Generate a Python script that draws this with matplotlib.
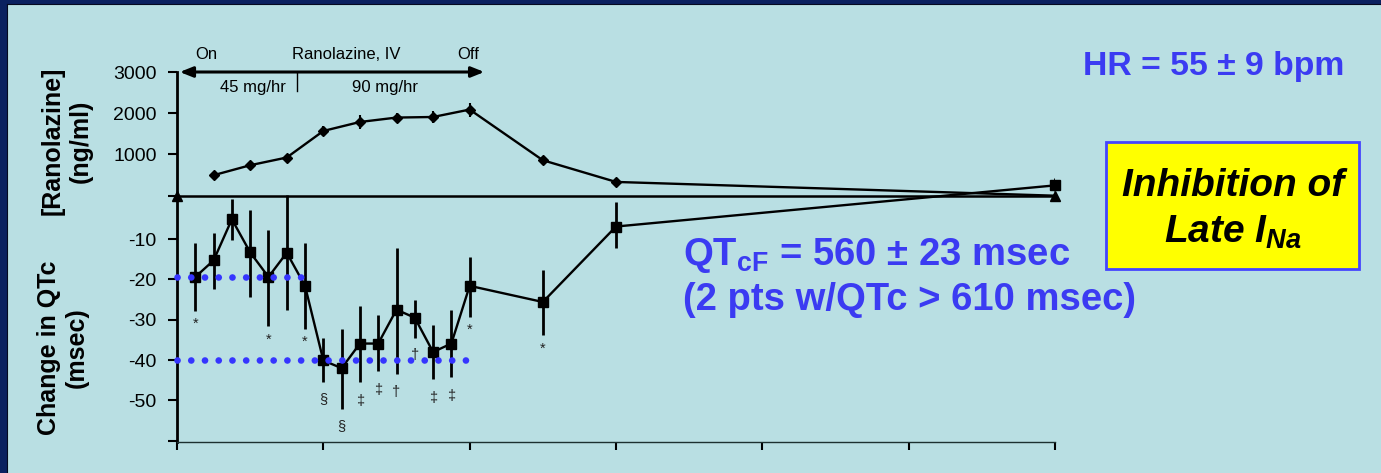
import matplotlib
matplotlib.use('Agg')
import matplotlib.pyplot as plt
from matplotlib.patches import Rectangle
from matplotlib.lines import Line2D
import numpy as np

plt.rcParams['font.family'] = ['Liberation Sans', 'DejaVu Sans']
plt.rcParams['mathtext.default'] = 'regular'

# --- data ---
# change in QTc (msec), hours after start of infusion
qtc_hours = [1, 2, 3, 4, 5, 6, 7, 8, 9, 10, 11, 12, 13, 14, 15, 16, 20, 24, 48]
qtc_mean = [-19.4, -15.3, -5.1, -13.3, -19.4, -13.4, -21.6, -40.1, -42.0, -35.9,
            -35.9, -27.5, -29.5, -38.0, -35.9, -21.6, -25.6, -6.9, 3.3]
qtc_upper = [-11.1, -8.4, -0.1, -2.8, -7.8, 1.0, -11.1, -34.5, -32.2, -26.6,
             -28.9, -12.3, -25.2, -31.2, -27.5, -14.4, -17.7, -0.7, 5.2]
qtc_lower = [-27.8, -22.5, -10.2, -24.3, -31.6, -27.5, -32.2, -45.4, -52.1, -45.4,
             -42.8, -43.5, -34.5, -44.8, -44.2, -29.3, -33.9, -12.3, 1.8]
qtc_signif = ['*', '', '', '', '*', '', '*', '§', '§', '‡', '‡', '†', '†', '‡', '‡',
              '*', '*', '', '']

# plasma ranolazine (ng/ml)
conc_hours = [0, 2, 4, 6, 8, 10, 12, 14, 16, 20, 24, 48]
conc_mean = [0, 497, 739, 926, 1570, 1788, 1895, 1909, 2089, 860, 334, 0]
conc_sd = [0, 40, 40, 50, 110, 160, 120, 140, 170, 110, 40, 40]

ref_levels = [-19.4, -40.0]
ref_until = [6.9, 16.5]

qtc_ticks = [-60, -50, -40, -30, -20, -10]
qtc_ticklabels = ['', '-50', '-40', '-30', '-20', '-10']
conc_ticks = [0, 1000, 2000, 3000]
conc_ticklabels = ['', '1000', '2000', '3000']
hour_ticks = [0, 8, 16, 24, 32, 40, 48]

# --- figure, sized in pixels ---
W, H, DPI = 1381, 473, 100
BG = '#b9dfe3'
BLUE = '#3b3bf2'
fig = plt.figure(figsize=(W / DPI, H / DPI), dpi=DPI, facecolor=BG)


def fx(px):
    return px / W


def fy(py):
    return 1 - py / H


# slide frame: navy strip left and top
fig.patches.append(Rectangle((0, 0), fx(7), 1, transform=fig.transFigure,
                             facecolor='#0b2160', edgecolor='none', zorder=0))
fig.patches.append(Rectangle((0, fy(4.7)), 1, 4.7 / H, transform=fig.transFigure,
                             facecolor='#0b2160', edgecolor='none', zorder=0))
fig.lines.append(Line2D([fx(6.5), fx(6.5)], [0, fy(4.2)], transform=fig.transFigure,
                        color='#050a20', lw=0.8))
fig.lines.append(Line2D([fx(6.5), 1], [fy(4.2), fy(4.2)], transform=fig.transFigure,
                        color='#050a20', lw=0.8))

ax = fig.add_axes([fx(177), fy(442), (1055 - 177) / W, (442 - 72) / H])
ax.set_facecolor('none')
ax2 = ax.twinx()

# QTc series
ax.vlines(qtc_hours, qtc_lower, qtc_upper, color='black', lw=2, zorder=3)
ax.plot(qtc_hours, qtc_mean, color='black', lw=1.7, marker='s', ms=7.5, zorder=4,
        clip_on=False)
for lvl, end in zip(ref_levels, ref_until):
    ax.plot([0, end], [lvl, lvl], color='#3535ff', lw=4.8,
            linestyle=(0, (0.01, 2.05)), dash_capstyle='round', zorder=5, clip_on=False)

sym_offset = {'*': -9.5, '§': -12, '‡': -13.5, '†': -12.5}
for h, lo, s in zip(qtc_hours, qtc_lower, qtc_signif):
    if s:
        ax.annotate(s, xy=(h, lo), xytext=(0, sym_offset[s]), textcoords='offset points',
                    ha='center', va='center', fontsize=10.5, color='#222222', zorder=2)

ax.set_xlim(0, 48)
ax.set_ylim(-60.3, 31.4)
ax.set_xticks(hour_ticks)
ax.set_xticklabels([])
ax.set_yticks(qtc_ticks)
ax.set_yticklabels(qtc_ticklabels)

# concentration series
ax2.axhline(0, color='black', lw=1.8, zorder=2)
ax2.vlines(conc_hours, np.array(conc_mean) - np.array(conc_sd),
           np.array(conc_mean) + np.array(conc_sd), color='black', lw=1.5)
ax2.plot(conc_hours[1:], conc_mean[1:], color='black', lw=1.7)
ax2.plot(conc_hours[1:-1], conc_mean[1:-1], 'D', color='black', ms=5)
ax2.plot([conc_hours[0], conc_hours[-1]], [conc_mean[0], conc_mean[-1]], '^',
         color='black', ms=7, clip_on=False, zorder=5)
ax2.set_ylim(-5973, 3000)
ax2.yaxis.tick_left()
ax2.set_yticks(conc_ticks)
ax2.set_yticklabels(conc_ticklabels)

for a in (ax, ax2):
    a.tick_params(axis='y', direction='out', length=6.5, width=1.5, pad=8,
                  labelsize=14, colors='black')
    for side in ('top', 'right'):
        a.spines[side].set_visible(False)
ax2.spines['left'].set_visible(False)
ax2.spines['bottom'].set_visible(False)
ax.spines['left'].set_linewidth(2)
ax.spines['bottom'].set_linewidth(1)
ax.spines['bottom'].set_color('#1c3030')
ax.tick_params(axis='x', direction='out', length=5.5, width=1.5, color='black')

# infusion arrow and labels
ax2.annotate('', xy=(16.8, 3000), xytext=(0.15, 3000),
             arrowprops=dict(arrowstyle='<|-|>,head_length=0.55,head_width=0.22',
                             color='black', lw=2.2, shrinkA=0, shrinkB=0,
                             mutation_scale=14),
             annotation_clip=False)
ax2.plot([6.54, 6.54], [3000, 2539], color='black', lw=1, clip_on=False)
ax2.text(1.62, 3425, 'On', ha='center', va='center', fontsize=12)
ax2.text(9.28, 3425, 'Ranolazine, IV', ha='center', va='center', fontsize=12)
ax2.text(15.93, 3425, 'Off', ha='center', va='center', fontsize=12)
ax2.text(4.17, 2624, '45 mg/hr', ha='center', va='center', fontsize=12)
ax2.text(11.37, 2624, '90 mg/hr', ha='center', va='center', fontsize=12)

# axis titles
fig.text(fx(67), fy(141), '[Ranolazine]\n(ng/ml)', rotation=90, ha='center',
         va='center', multialignment='center', fontsize=18, fontweight='bold')
fig.text(fx(62.5), fy(348), 'Change in QTc\n(msec)', rotation=90, ha='center',
         va='center', multialignment='center', fontsize=18, fontweight='bold')

# callouts
fig.text(fx(1214), fy(66.7), 'HR = 55 ± 9 bpm', ha='center', va='center',
         fontsize=24.3, fontweight='bold', color=BLUE)
fig.text(fx(683), fy(265), 'QT$_{cF}$ = 560 ± 23 msec', ha='left', va='baseline',
         fontsize=27.5, fontweight='bold', color=BLUE)
fig.text(fx(683), fy(310), '(2 pts w/QTc > 610 msec)', ha='left', va='baseline',
         fontsize=27.5, fontweight='bold', color=BLUE)

fig.patches.append(Rectangle((fx(1105.7), fy(269)), (1359.3 - 1105.7) / W,
                             (269 - 142.3) / H, transform=fig.transFigure,
                             facecolor='#ffff00', edgecolor='#4545ff', lw=2, zorder=1))
fig.text(fx(1233), fy(195.7), 'Inhibition of', ha='center', va='baseline',
         fontsize=28, fontweight='bold', fontstyle='italic', color='black', zorder=2)
fig.text(fx(1233), fy(242.7), 'Late I$_{Na}$', ha='center', va='baseline',
         fontsize=28, fontweight='bold', fontstyle='italic', color='black', zorder=2)

fig.savefig('out.png', dpi=DPI, facecolor=BG)
